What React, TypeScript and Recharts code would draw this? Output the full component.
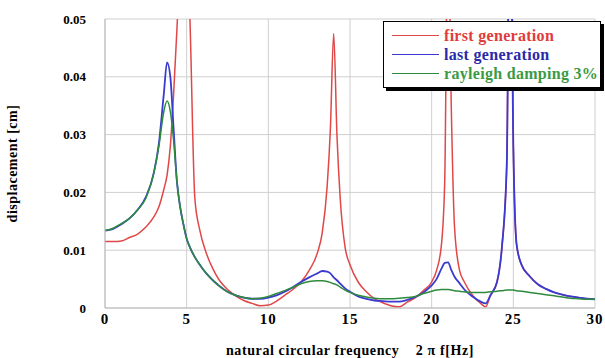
import { LineChart, Line, XAxis, YAxis, CartesianGrid, Legend } from 'recharts';

// natural circular frequency (x axis)
const freq = [
  0, 0.5, 1, 1.5, 2, 2.5, 3, 3.3, 3.6, 3.8, 4, 4.2, 4.4, 4.6, 4.8, 5, 5.2, 5.5, 5.8, 6.2,
  6.6, 7, 7.5, 8, 8.5, 9, 9.5, 10, 10.5, 11, 11.5, 12, 12.5, 13, 13.3, 13.6, 13.8, 14, 14.2, 14.4,
  14.7, 15, 15.5, 16, 16.5, 17, 17.5, 18, 18.5, 19, 19.5, 20, 20.3, 20.6, 20.8, 21, 21.2, 21.4, 21.7, 22,
  22.5, 23, 23.3, 23.6, 24, 24.3, 24.6, 24.8, 25, 25.2, 25.5, 26, 26.5, 27, 27.5, 28, 28.5, 29, 29.5, 30,
];

const firstGen = [
  0.0115, 0.0115, 0.0116, 0.0122, 0.0128, 0.014, 0.0158, 0.0175, 0.0205, 0.023, 0.028, 0.037, 0.048, 0.06, 0.07, 0.065, 0.05, 0.019, 0.0135, 0.0095,
  0.0068, 0.0048, 0.0032, 0.0021, 0.0013, 0.0008, 0.0004, 0.0005, 0.0012, 0.0022, 0.0032, 0.0045, 0.0065, 0.0095, 0.013, 0.021, 0.031, 0.0475, 0.03, 0.019,
  0.0105, 0.0075, 0.0045, 0.0028, 0.0016, 0.0009, 0.0004, 0.0002, 0.001, 0.0018, 0.003, 0.0045, 0.0065, 0.011, 0.022, 0.07, 0.035, 0.014, 0.0066, 0.0045,
  0.0022, 0.0008, 0.0002, 0.0022, 0.0045, 0.0105, 0.025, 0.08, 0.028, 0.011, 0.0075, 0.0055, 0.0041, 0.0033, 0.0027, 0.0023, 0.002, 0.0018, 0.0016, 0.0015,
];

const lastGen = [
  0.0134, 0.0137, 0.0145, 0.0155, 0.017, 0.0192, 0.0235, 0.0285, 0.037, 0.0425, 0.04, 0.031, 0.022, 0.0175, 0.0145, 0.012, 0.0105, 0.0088, 0.0075, 0.006,
  0.0048, 0.0038, 0.0028, 0.0022, 0.0018, 0.0016, 0.0016, 0.0018, 0.0022, 0.0028, 0.0036, 0.0045, 0.0053, 0.006, 0.0064, 0.0063, 0.006, 0.0053, 0.0048, 0.0042,
  0.0034, 0.0028, 0.002, 0.0016, 0.0013, 0.0012, 0.0011, 0.0011, 0.0014, 0.0019, 0.0027, 0.0039, 0.005, 0.0068, 0.0078, 0.0079, 0.0066, 0.0054, 0.0043, 0.0032,
  0.002, 0.0011, 0.0008, 0.0022, 0.0045, 0.0105, 0.025, 0.08, 0.028, 0.011, 0.0075, 0.0055, 0.0041, 0.0033, 0.0027, 0.0023, 0.002, 0.0018, 0.0016, 0.0015,
];

const rayleigh = [
  0.0134, 0.0138, 0.0146, 0.0155, 0.017, 0.019, 0.0235, 0.028, 0.034, 0.0358, 0.034, 0.029, 0.022, 0.0175, 0.0145, 0.012, 0.0105, 0.0088, 0.0075, 0.006,
  0.0048, 0.0038, 0.0028, 0.0022, 0.0018, 0.0016, 0.0017, 0.002, 0.0025, 0.003, 0.0036, 0.0042, 0.0046, 0.0047, 0.0047, 0.0046, 0.0044, 0.0042, 0.004, 0.0036,
  0.0031, 0.0027, 0.0022, 0.0019, 0.0017, 0.0016, 0.0016, 0.0017, 0.0018, 0.002, 0.0025, 0.0029, 0.0031, 0.0032, 0.0032, 0.0032, 0.0031, 0.003, 0.0029, 0.0028,
  0.0027, 0.0027, 0.0027, 0.0028, 0.0029, 0.003, 0.0031, 0.0031, 0.0031, 0.003, 0.0029, 0.0027, 0.0025, 0.0023, 0.0021, 0.0019, 0.0017, 0.0016, 0.0015, 0.0015,
];

const xTicks = [0, 5, 10, 15, 20, 25, 30];
const yTicks = [0, 0.01, 0.02, 0.03, 0.04, 0.05];

const seriesNames = ['first generation', 'last generation', 'rayleigh damping 3%'];

const data = freq.map((f, i) => ({
  f,
  first: firstGen[i],
  last: lastGen[i],
  rayleigh: rayleigh[i],
}));

const serif = '"Liberation Serif", "DejaVu Serif", serif';

const legendItems = [
  { name: seriesNames[0], line: '#e04848', text: '#e03c3c' },
  { name: seriesNames[1], line: '#3a3ad0', text: '#2a2aa8' },
  { name: seriesNames[2], line: '#2e8b3e', text: '#3c9a44' },
];

function LegendBox() {
  return (
    <div
      style={{
        width: 218,
        height: 67,
        boxSizing: 'border-box',
        background: '#fff',
        border: '1px solid #000',
        boxShadow: '3px 3px 0 #000',
        paddingTop: 4,
      }}
    >
      {legendItems.map((it) => (
        <div key={it.name} style={{ display: 'flex', alignItems: 'center', height: 19 }}>
          <div style={{ width: 47, height: 0, borderTop: `1.5px solid ${it.line}`, marginLeft: 8, marginRight: 5 }} />
          <span style={{ fontFamily: serif, fontWeight: 'bold', fontSize: 16, letterSpacing: 0.3, color: it.text }}>{it.name}</span>
        </div>
      ))}
    </div>
  );
}

export default function App() {
  return (
    <div style={{ position: 'absolute', left: 0, top: 0, background: '#fff' }}>
      <LineChart width={605} height={358} data={data} margin={{ top: 19, right: 10, bottom: 0, left: 0 }}>
        <CartesianGrid stroke="#cfcfcf" />
        <XAxis
          dataKey="f"
          type="number"
          domain={[0, 30]}
          ticks={xTicks}
          height={50}
          stroke="#bbb"
          tickLine={false}
          tickSize={0}
          tickMargin={5}
          tick={{ fill: '#000', fontFamily: serif, fontWeight: 'bold', fontSize: 15, letterSpacing: 1 }}
          label={{
            value: 'natural circular frequency\u00a0\u00a0\u00a0\u00a02\u00a0\u03c0\u00a0f[Hz]',
            position: 'insideBottom',
            offset: 3,
            style: { fill: '#000', fontFamily: serif, fontWeight: 'bold', fontSize: 14, letterSpacing: 0.6 },
          }}
        />
        <YAxis
          type="number"
          domain={[0, 0.05]}
          ticks={yTicks}
          allowDataOverflow
          width={105}
          stroke="#bbb"
          tickLine={false}
          tickMargin={13}
          tick={{ fill: '#000', fontFamily: serif, fontWeight: 'bold', fontSize: 13 }}
          label={{
            value: 'displacement [cm]',
            angle: -90,
            position: 'insideLeft',
            offset: 12,
            style: { fill: '#000', fontFamily: serif, fontWeight: 'bold', fontSize: 14, letterSpacing: 0.5, textAnchor: 'middle' },
          }}
        />
        <Legend
          layout="vertical"
          align="center"
          verticalAlign="middle"
          content={() => <LegendBox />}
          wrapperStyle={{ left: 383, top: 21, width: 221 }}
        />
        <Line type="monotone" dataKey="first" name={seriesNames[0]} stroke="#e04848" strokeWidth={1.5} dot={false} isAnimationActive={false} />
        <Line type="monotone" dataKey="last" name={seriesNames[1]} stroke="#3a3ad0" strokeWidth={1.8} dot={false} isAnimationActive={false} />
        <Line type="monotone" dataKey="rayleigh" name={seriesNames[2]} stroke="#2e8b3e" strokeWidth={1.5} dot={false} isAnimationActive={false} />
      </LineChart>
    </div>
  );
}
